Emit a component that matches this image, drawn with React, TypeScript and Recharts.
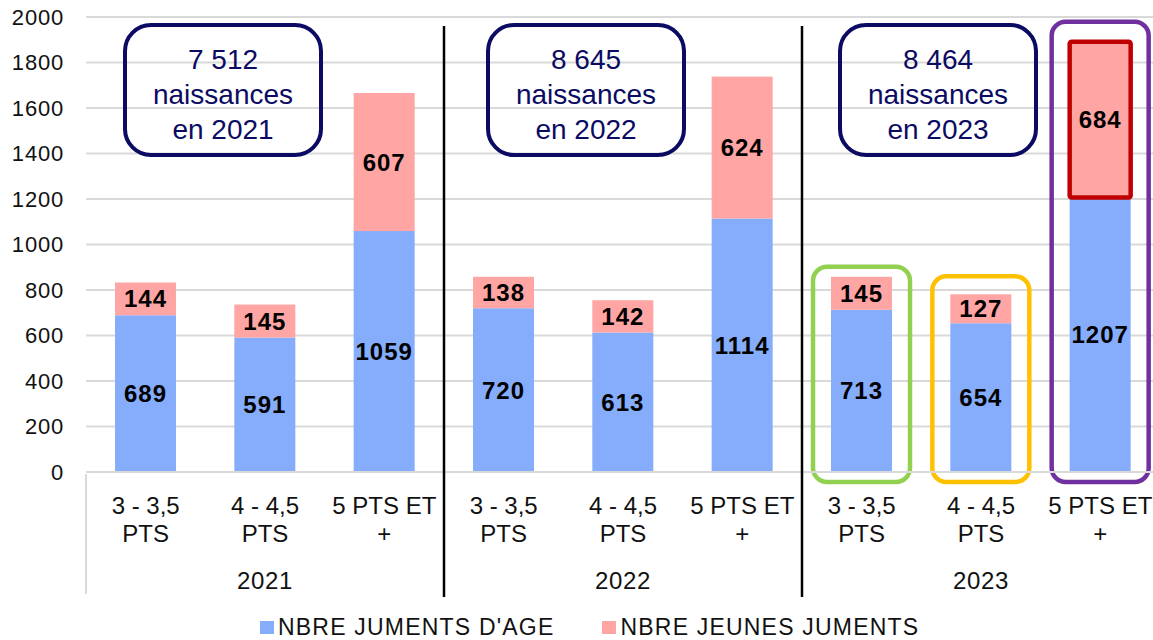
import React from "react";
import { BarChart, Bar, XAxis, YAxis, CartesianGrid, LabelList } from "recharts";

const years = ["2021", "2022", "2023"];
const classes = [["3 - 3,5", "PTS"], ["4 - 4,5", "PTS"], ["5 PTS ET", "+"]];
const ageValues = [689, 591, 1059, 720, 613, 1114, 713, 654, 1207];
const youngValues = [144, 145, 607, 138, 142, 624, 145, 127, 684];
const births = ["7 512", "8 645", "8 464"];
const yTicks = [0, 200, 400, 600, 800, 1000, 1200, 1400, 1600, 1800, 2000];
// which bar gets a coloured frame (index in the 9 bars)
const outlined = [null, null, null, null, null, null, "green", "orange", "purple"];
const redSegment = [false, false, false, false, false, false, false, false, true];

const AGE_LABEL = "NBRE JUMENTS D'AGE";
const YOUNG_LABEL = "NBRE JEUNES JUMENTS";
const BLUE = "#85ADFC";
const PINK = "#FFA5A4";
const NAVY = "#0B0B63";
const FONT = "'Liberation Sans', Arial, sans-serif";

const frameStyle: Record<string, { color: string; padTop: number }> = {
  green: { color: "#92D050", padTop: 10 },
  orange: { color: "#FFC000", padTop: 18 },
  purple: { color: "#7030A0", padTop: 20 },
};

const data = ageValues.map((age, i) => ({
  key: years[Math.floor(i / 3)] + "|" + i,
  year: years[Math.floor(i / 3)],
  line1: classes[i % 3][0],
  line2: classes[i % 3][1],
  age,
  young: youngValues[i],
  outline: outlined[i],
  red: redSegment[i],
}));

const YoungShape = (props: any) => {
  const { x, y, width, height, payload } = props;
  const unit = height / payload.young;
  const bottom = y + height + payload.age * unit;
  const f = payload.outline ? frameStyle[payload.outline] : null;
  return (
    <g>
      <rect x={x} y={y} width={width} height={height} fill={PINK} />
      {payload.red && (
        <rect x={x} y={y} width={width} height={height} fill="none" stroke="#C00000" strokeWidth={4.5} rx={2} />
      )}
      {f && (
        <rect
          x={x - 18}
          y={y - f.padTop}
          width={width + 36}
          height={bottom - y + f.padTop + 10}
          fill="none"
          stroke={f.color}
          strokeWidth={4.5}
          rx={14}
        />
      )}
    </g>
  );
};

const CatTick = (props: any) => {
  const { x, y, index, payload, width, visibleTicksCount } = props;
  const d = data[index] || data.find((e) => e.key === payload.value);
  const band = width && visibleTicksCount ? width / visibleTicksCount : 119.2;
  const left = x - band / 2;
  return (
    <g fontFamily={FONT} fontSize={24} fill="#111">
      <text x={x} y={y + 40} textAnchor="middle">{d.line1}</text>
      <text x={x} y={y + 68} textAnchor="middle">{d.line2}</text>
      {index % 3 === 1 && (
        <text x={x} y={y + 115} textAnchor="middle" letterSpacing={0.6}>{d.year}</text>
      )}
      {index === 0 && <line x1={left} x2={left} y1={y} y2={y + 120} stroke="#D9D9D9" strokeWidth={2} />}
      {index > 0 && index % 3 === 0 && (
        <line x1={left} x2={left} y1={y - 448} y2={y + 123} stroke="#000" strokeWidth={2.5} />
      )}
    </g>
  );
};

const valueLabel = {
  fill: "#000",
  fontSize: 24,
  fontWeight: 700,
  fontFamily: FONT,
  letterSpacing: 1,
};

export default function App() {
  const boxLeft = [123, 486, 838];
  return (
    <div
      style={{
        position: "fixed",
        left: 0,
        top: 0,
        width: 1153,
        height: 640,
        overflow: "hidden",
        background: "#fff",
        fontFamily: FONT,
      }}
    >
      <BarChart
        width={1160}
        height={640}
        data={data}
        margin={{ top: 17, right: 0, left: 0, bottom: 48 }}
        barSize={61}
      >
        <CartesianGrid vertical={false} stroke="#D9D9D9" strokeWidth={2} />
        <YAxis
          width={86}
          domain={[0, 2000]}
          ticks={yTicks}
          axisLine={false}
          tickLine={false}
          tickSize={0}
          tickMargin={22}
          tick={{ fontSize: 22, fill: "#111", fontFamily: FONT, letterSpacing: 0.8 }}
        />
        <XAxis
          dataKey="key"
          interval={0}
          height={120}
          axisLine={{ stroke: "#D9D9D9", strokeWidth: 2 }}
          tickLine={false}
          tickSize={0}
          tick={<CatTick />}
        />
        <Bar dataKey="age" stackId="s" fill={BLUE} isAnimationActive={false}>
          <LabelList dataKey="age" position="center" style={valueLabel} />
        </Bar>
        <Bar dataKey="young" stackId="s" fill={PINK} shape={<YoungShape />} isAnimationActive={false}>
          <LabelList dataKey="young" position="center" style={valueLabel} />
        </Bar>
      </BarChart>

      {births.map((b, i) => (
        <div
          key={b}
          style={{
            position: "absolute",
            left: boxLeft[i],
            top: 23,
            width: 200,
            height: 134,
            boxSizing: "border-box",
            border: `4.5px solid ${NAVY}`,
            borderRadius: 28,
            color: NAVY,
            fontSize: 28,
            lineHeight: "35px",
            textAlign: "center",
            paddingTop: 15,
          }}
        >
          {b}
          <br />
          naissances
          <br />
          en {years[i]}
        </div>
      ))}

      <div
        style={{
          position: "absolute",
          left: 260,
          top: 614,
          display: "flex",
          alignItems: "center",
          fontSize: 23,
          color: "#111",
          letterSpacing: 1.2,
        }}
      >
        <span style={{ width: 14, height: 13, background: BLUE, marginRight: 4 }} />
        <span style={{ marginRight: 48 }}>{AGE_LABEL}</span>
        <span style={{ width: 14, height: 13, background: PINK, marginRight: 4 }} />
        <span>{YOUNG_LABEL}</span>
      </div>
    </div>
  );
}
